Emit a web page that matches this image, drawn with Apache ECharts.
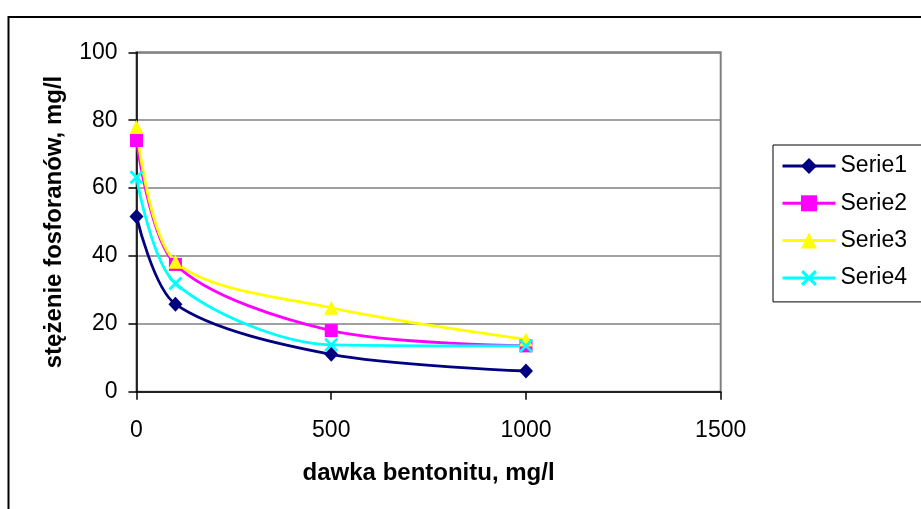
<!DOCTYPE html>
<html>
<head>
<meta charset="utf-8">
<script src="https://cdn.jsdelivr.net/npm/echarts@6/dist/echarts.min.js"></script>
<style>
  html, body { margin: 0; padding: 0; background: #fff; }
  #chart { width: 921px; height: 509px; }
</style>
</head>
<body>
<div id="chart"></div>
<script>
// Bentonite dose (mg/l) and resulting phosphate concentration (mg/l) for four series
const doses = [0, 100, 500, 1000];
const serie1 = [51.6, 25.8, 11.0, 6.1];
const serie2 = [74.0, 37.5, 18.0, 13.5];
const serie3 = [78.0, 38.3, 24.7, 15.4];
const serie4 = [63.2, 31.9, 13.8, 13.5];
const seriesNames = ['Serie1', 'Serie2', 'Serie3', 'Serie4'];
const yTicks = [0, 20, 40, 60, 80, 100];
const xTicks = [0, 500, 1000, 1500];

const FONT = "'Liberation Sans', Arial, sans-serif";
const xMark = 'path://M0,1.4 L1.4,0 L5,3.6 L8.6,0 L10,1.4 L6.4,5 L10,8.6 L8.6,10 L5,6.4 L1.4,10 L0,8.6 L3.6,5 Z';

function pairs(values) {
  return doses.map((d, i) => [d, values[i]]);
}

const styles = [
  { color: '#000080', symbol: 'diamond', size: [14, 15] },
  { color: '#FF00FF', symbol: 'rect', size: [13, 13] },
  { color: '#FFFF00', symbol: 'triangle', size: [14, 14] },
  { color: '#00FFFF', symbol: xMark, size: [14, 14] }
];
const allValues = [serie1, serie2, serie3, serie4];

const chart = echarts.init(document.getElementById('chart'), null, { renderer: 'canvas' });

chart.setOption({
  backgroundColor: '#ffffff',
  animation: false,
  textStyle: { fontFamily: FONT },
  graphic: [{
    type: 'rect',
    shape: { x: 8.5, y: 17, width: 1000, height: 600 },
    style: { fill: 'none', stroke: '#000', lineWidth: 2 },
    silent: true,
    z: 0
  }],
  grid: {
    left: 136.5, top: 52.3, width: 584.2, height: 339.4,
    show: true, borderColor: '#808080', borderWidth: 2, backgroundColor: '#fff'
  },
  legend: {
    orient: 'vertical',
    left: 773, top: 145,
    padding: [9, 30, 12, 8],
    borderColor: '#000', borderWidth: 1,
    itemWidth: 53, itemHeight: 20, itemGap: 13.3,
    lineStyle: { width: 3 },
    textStyle: { fontSize: 23, fontFamily: FONT, color: '#000', lineHeight: 24 },
    data: seriesNames
  },
  xAxis: {
    type: 'value',
    min: xTicks[0], max: xTicks[xTicks.length - 1], interval: 500,
    name: 'dawka bentonitu, mg/l',
    nameLocation: 'middle', nameGap: 70,
    nameTextStyle: { fontSize: 24, fontWeight: 'bold', color: '#000', fontFamily: FONT },
    axisLine: { show: true, onZero: false, lineStyle: { color: '#000', width: 1.5 } },
    axisTick: { show: true, inside: false, length: 8, lineStyle: { color: '#000', width: 1.5 } },
    axisLabel: { fontSize: 23, color: '#000', margin: 27, fontFamily: FONT, formatter: v => String(v) },
    splitLine: { show: false }
  },
  yAxis: {
    type: 'value',
    min: yTicks[0], max: yTicks[yTicks.length - 1], interval: 20,
    name: 'stężenie fosforanów, mg/l',
    nameLocation: 'middle', nameGap: 70, nameRotate: 90,
    nameTextStyle: { fontSize: 24, fontWeight: 'bold', color: '#000', fontFamily: FONT },
    axisLine: { show: true, lineStyle: { color: '#000', width: 1.5 } },
    axisTick: { show: true, inside: false, length: 8, lineStyle: { color: '#000', width: 1.5 } },
    axisLabel: { fontSize: 23, color: '#000', margin: 19, fontFamily: FONT, formatter: v => String(v) },
    splitLine: { show: true, lineStyle: { color: '#808080', width: 1.5 } }
  },
  series: seriesNames.map((name, i) => ({
    name: name,
    type: 'line',
    data: pairs(allValues[i]),
    smooth: 0.3,
    symbol: styles[i].symbol,
    symbolSize: styles[i].size,
    showAllSymbol: true,
    lineStyle: { color: styles[i].color, width: 2.8 },
    itemStyle: { color: styles[i].color, borderWidth: 0, opacity: 1 },
    z: 3
  }))
});
</script>
</body>
</html>
